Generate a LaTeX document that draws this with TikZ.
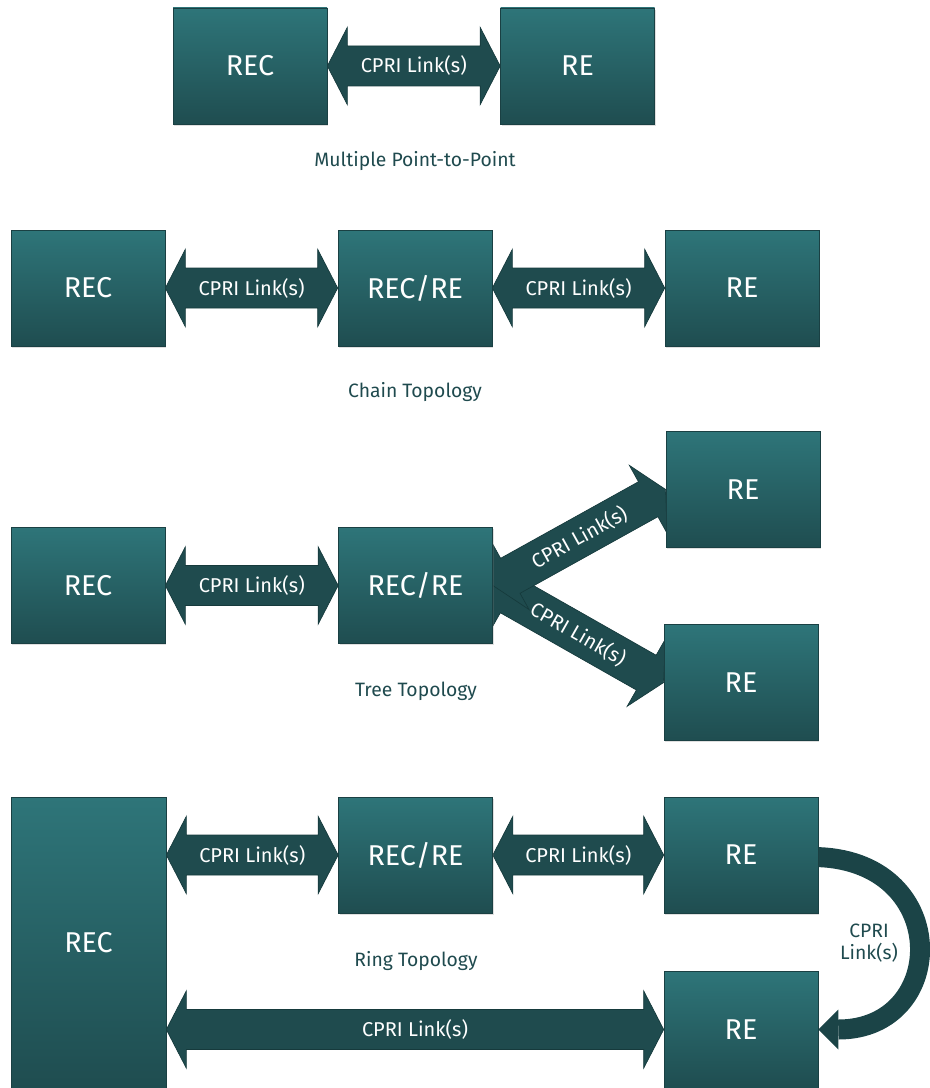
\documentclass[tikz,border=0pt]{standalone}
\usepackage{fontspec}
\setmainfont{Fira Sans}
\usetikzlibrary{calc,shadows}
\definecolor{boxtop}{HTML}{2E7579}
\definecolor{boxbot}{HTML}{1F4D50}
\definecolor{boxline}{HTML}{1A4043}
\definecolor{linkfill}{HTML}{1F4B4E}
\definecolor{linkline}{HTML}{163A3C}
\definecolor{ringfill}{HTML}{1B4447}
\definecolor{captext}{HTML}{1F4A4E}
\pgfdeclarelayer{background}
\pgfsetlayers{background,main}

\tikzset{
  unit/.style={minimum width=115.5pt, minimum height=87pt},
  box/.style={draw=boxline, line width=0.5pt, top color=boxtop, bottom color=boxbot,
    text=white, font=\fontsize{21.5}{24}\selectfont, inner sep=0pt,
    drop shadow={opacity=0.25, shadow xshift=0.8pt, shadow yshift=-1.2pt}},
  linkbody/.style={fill=linkfill, draw=linkline, line width=0.5pt, line join=miter},
  linklabel/.style={text=white, font=\fontsize{15}{18}\selectfont, inner sep=0pt},
  caption/.style={text=captext, font=\fontsize{14.5}{17}\selectfont},
}

% double-headed link arrow between two anchor points, with its label
\newcommand\linkarrow[3]{%
  \filldraw[linkbody] (#1)
    -- ($(#1)!15pt!(#2)!29pt!90:(#2)$)
    -- ($(#1)!15pt!(#2)!15pt!90:(#2)$)
    -- ($(#2)!15pt!(#1)!15pt!-90:(#1)$)
    -- ($(#2)!15pt!(#1)!29pt!-90:(#1)$)
    -- (#2)
    -- ($(#2)!15pt!(#1)!29pt!90:(#1)$)
    -- ($(#2)!15pt!(#1)!15pt!90:(#1)$)
    -- ($(#1)!15pt!(#2)!15pt!-90:(#2)$)
    -- ($(#1)!15pt!(#2)!29pt!-90:(#2)$)
    -- cycle;
  \path (#1) -- (#2) node[midway, sloped, linklabel] {#3};%
}

\begin{document}
\begin{tikzpicture}[x=0.75pt, y=-0.75pt]
\useasboundingbox (0,0) rectangle (930,1088);

% Multiple point-to-point
\node[box, unit] (p2prec) at (250,66) {REC};
\node[box, unit] (p2pre)  at (577.5,66) {RE};
\node[caption] (capp2p) at (415,161) {Multiple Point-to-Point};

% Chain topology
\node[box, unit] (chrec)  at (88,288) {REC};
\node[box, unit] (chmid)  at (415,288) {REC/RE};
\node[box, unit] (chre)   at (742,288) {RE};
\node[caption] (capch) at (415,392) {Chain Topology};

% Tree topology
\node[box, unit] (trrec)  at (88,585.5) {REC};
\node[box, unit] (trmid)  at (415.5,585.5) {REC/RE};
\node[box, unit] (trrea)  at (743,489.5) {RE};
\node[box, unit] (trreb)  at (741,682.5) {RE};
\node[caption] (captr) at (416,691) {Tree Topology};

% Ring topology
\node[box, minimum width=116.25pt, minimum height=218.25pt] (rgrec) at (88.5,942.5) {REC};
\node[box, unit] (rgmid)  at (415.5,855) {REC/RE};
\node[box, unit] (rgrea)  at (741,855) {RE};
\node[box, minimum width=115.5pt, minimum height=87.75pt] (rgreb) at (741,1029.5) {RE};
\node[caption] (caprg) at (416,961) {Ring Topology};

\begin{pgfonlayer}{background}
  \linkarrow{p2prec.east}{p2pre.west}{CPRI Link(s)}
  \linkarrow{chrec.east}{chmid.west}{CPRI Link(s)}
  \linkarrow{chmid.east}{chre.west}{CPRI Link(s)}
  \linkarrow{trrec.east}{trmid.west}{CPRI Link(s)}
  \linkarrow{trmid.east}{trreb.west}{CPRI Link(s)}
  \linkarrow{trmid.east}{trrea.west}{CPRI Link(s)}
  \linkarrow{rgrec.east |- rgmid.west}{rgmid.west}{CPRI Link(s)}
  \linkarrow{rgmid.east}{rgrea.west}{CPRI Link(s)}
  \linkarrow{rgrec.east |- rgreb.west}{rgreb.west}{CPRI Link(s)}

  % curved link closing the ring
  \coordinate (ringend) at ($(rgreb.east)+(20,0)$);
  \draw[ringfill, line width=15pt] ($(rgrea.east)+(-6,2)$)
    .. controls +(140,0) and +(112,0) .. (ringend);
  \fill[ringfill] (rgreb.east) -- ++(20,-20) -- ++(0,40) -- cycle;
\end{pgfonlayer}
\node[text=captext, font=\fontsize{14.5}{17}\selectfont, align=center] (ringlbl) at (869,943) {CPRI\\[-1pt]Link(s)};

\end{tikzpicture}
\end{document}
